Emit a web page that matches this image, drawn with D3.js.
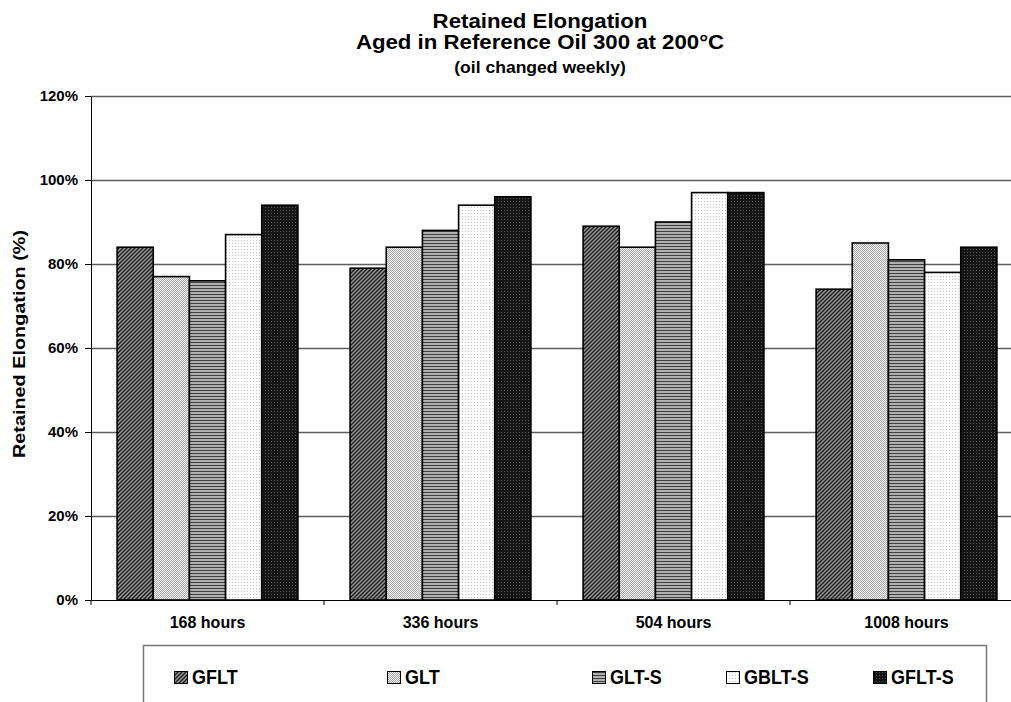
<!DOCTYPE html>
<html>
<head>
<meta charset="utf-8">
<script src="https://cdn.jsdelivr.net/npm/d3@7"></script>
<style>
  html, body { margin: 0; padding: 0; background: #fff; }
  svg { display: block; font-family: Arial, "Liberation Sans", sans-serif; font-weight: bold; }
</style>
</head>
<body>
<svg id="chart" width="1011" height="702"></svg>
<script>
// ---- data ----
const categories = ["168 hours", "336 hours", "504 hours", "1008 hours"];
const series = ["GFLT", "GLT", "GLT-S", "GBLT-S", "GFLT-S"];
const GFLT   = [84, 79, 89, 74];
const GLT    = [77, 84, 84, 85];
const GLT_S  = [76, 88, 90, 81];
const GBLT_S = [87, 94, 97, 78];
const GFLT_S = [94, 96, 97, 84];
const yTicks = [0, 20, 40, 60, 80, 100, 120];
const titleLines = ["Retained Elongation", "Aged in Reference Oil 300 at 200°C", "(oil changed weekly)"];
const yTitle = "Retained Elongation (%)";

const seriesValues = [GFLT, GLT, GLT_S, GBLT_S, GFLT_S];

// ---- layout ----
const plot = { left: 91, right: 1023, top: 96, bottom: 600 };
const legendX = [174, 387, 592, 726, 873];

const svg = d3.select("#chart");
const defs = svg.append("defs");

// patterns
function pat(id, w, h, build) {
  const p = defs.append("pattern").attr("id", id).attr("patternUnits", "userSpaceOnUse")
    .attr("width", w).attr("height", h);
  build(p);
}
pat("p0", 4, 4, p => {
  p.append("rect").attr("width", 4).attr("height", 4).attr("fill", "#9a9a9a");
  p.append("path").attr("d", "M0,4 L4,0 M-1,1 L1,-1 M3,5 L5,3").attr("stroke", "#1a1a1a").attr("stroke-width", 1.4);
});
pat("p1", 2, 2, p => {
  p.append("rect").attr("width", 2).attr("height", 2).attr("fill", "#f2f2f2");
  p.append("rect").attr("width", 1).attr("height", 1).attr("fill", "#a8a8a8");
  p.append("rect").attr("x", 1).attr("y", 1).attr("width", 1).attr("height", 1).attr("fill", "#a8a8a8");
});
pat("p2", 3, 3, p => {
  p.append("rect").attr("width", 3).attr("height", 3).attr("fill", "#b0b0b0");
  p.append("rect").attr("width", 3).attr("height", 1).attr("fill", "#404040");
});
pat("p3", 3, 3, p => {
  p.append("rect").attr("width", 3).attr("height", 3).attr("fill", "#ffffff");
  p.append("rect").attr("width", 1).attr("height", 1).attr("fill", "#c4c4c4");
});
pat("p4", 3, 3, p => {
  p.append("rect").attr("width", 3).attr("height", 3).attr("fill", "#151515");
  p.append("rect").attr("width", 1).attr("height", 1).attr("fill", "#5a5a5a");
});
const fills = series.map((s, i) => `url(#p${i})`);

// scales
const x0 = d3.scaleBand().domain(categories).range([plot.left, plot.right]).padding(0);
const gap = x0.bandwidth() * 0.112;
const x1 = d3.scaleBand().domain(series).range([gap, x0.bandwidth() - gap]).padding(0);
const y = d3.scaleLinear().domain([0, 120]).range([plot.bottom, plot.top]);

// gridlines
svg.append("g").selectAll("line").data(yTicks.filter(d => d > 0)).join("line")
  .attr("x1", plot.left).attr("x2", plot.right)
  .attr("y1", d => Math.round(y(d)) + 0.5).attr("y2", d => Math.round(y(d)) + 0.5)
  .attr("stroke", "#5e5e5e").attr("stroke-width", 1.3);

// bars
const groups = svg.append("g").selectAll("g").data(categories).join("g")
  .attr("transform", c => `translate(${x0(c)},0)`);
groups.selectAll("rect").data((c, ci) => series.map((s, si) => ({ s, si, v: seriesValues[si][ci] })))
  .join("rect")
  .attr("x", d => x1(d.s))
  .attr("y", d => y(d.v))
  .attr("width", x1.bandwidth())
  .attr("height", d => y(0) - y(d.v))
  .attr("fill", d => fills[d.si])
  .attr("stroke", "#000").attr("stroke-width", 1.6);

// y axis
const yAxis = d3.axisLeft(y).tickValues(yTicks).tickFormat(d => d + "%").tickSize(6).tickSizeOuter(0).tickPadding(7);
const gy = svg.append("g").attr("transform", `translate(${plot.left},0)`).call(yAxis);
gy.select(".domain").attr("stroke", "#000");
gy.selectAll(".tick line").attr("stroke", "#000");
gy.selectAll(".tick text").attr("font-size", 15).attr("font-weight", "bold").attr("fill", "#000")
  .attr("font-family", "Arial, 'Liberation Sans', sans-serif");

// x axis
const xAxis = d3.axisBottom(x0).tickSize(0).tickPadding(17);
const gx = svg.append("g").attr("transform", `translate(0,${plot.bottom})`).call(xAxis);
gx.select(".domain").attr("stroke", "#000");
gx.selectAll(".tick text").attr("font-size", 16).attr("font-weight", "bold").attr("fill", "#000")
  .attr("font-family", "Arial, 'Liberation Sans', sans-serif");
const boundaries = categories.map(c => x0(c)).concat([x0(categories[categories.length - 1]) + x0.bandwidth()]);
gx.selectAll(".bnd").data(boundaries).join("line").attr("class", "bnd")
  .attr("x1", d => d).attr("x2", d => d).attr("y1", 0).attr("y2", 5).attr("stroke", "#000");

// title
const titleSpec = [
  { size: 19, y: 28 },
  { size: 19, y: 49 },
  { size: 15, y: 73 }
];
titleLines.forEach((t, i) => {
  svg.append("text")
    .attr("transform", `translate(540,${titleSpec[i].y}) scale(1.17,1.05)`)
    .attr("text-anchor", "middle").attr("font-size", titleSpec[i].size)
    .attr("fill", "#000").text(t);
});

// y title
svg.append("text")
  .attr("transform", `translate(25,${(plot.top + plot.bottom) / 2 - 4}) rotate(-90) scale(1.24,1)`)
  .attr("text-anchor", "middle").attr("font-size", 16).attr("fill", "#000").text(yTitle);

// legend
svg.append("rect").attr("x", 143.5).attr("y", 645.5).attr("width", 843).attr("height", 80)
  .attr("fill", "none").attr("stroke", "#777").attr("stroke-width", 1.5);
const lg = svg.append("g").selectAll("g").data(series).join("g")
  .attr("transform", (d, i) => `translate(${legendX[i]},0)`);
lg.append("rect").attr("x", 0.5).attr("y", 671.5).attr("width", 13).attr("height", 12)
  .attr("fill", (d, i) => fills[i]).attr("stroke", "#000").attr("stroke-width", 1);
lg.append("text").attr("transform", "translate(18,684) scale(1,1.12)").attr("font-size", 18).attr("fill", "#000")
  .text(d => d);
</script>
</body>
</html>
